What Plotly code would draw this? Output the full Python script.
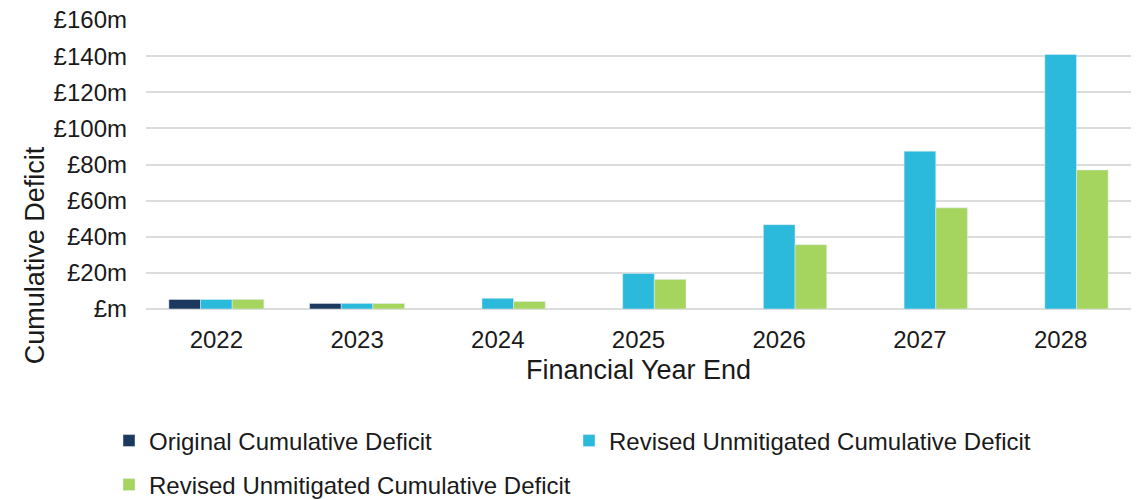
import plotly.graph_objects as go

years = ["2022", "2023", "2024", "2025", "2026", "2027", "2028"]
original_deficit = [5.3, 3.1, None, None, None, None, None]
revised_unmitigated = [5.3, 3.1, 5.9, 19.7, 46.7, 87.4, 140.9]
revised_unmitigated_green = [5.3, 3.1, 4.2, 16.4, 35.6, 56.0, 77.0]
y_ticks = [0, 20, 40, 60, 80, 100, 120, 140, 160]
y_tick_text = ["£m", "£20m", "£40m", "£60m", "£80m", "£100m", "£120m", "£140m", "£160m"]

series_name = "Revised Unmitigated Cumulative Deficit"
FONT = "Liberation Sans, Arial, sans-serif"
W, H = 1137, 500

fig = go.Figure()
fig.add_trace(go.Bar(x=years, y=original_deficit, name="Original Cumulative Deficit",
                     marker_color="#1B385E", legend="legend", showlegend=True))
fig.add_trace(go.Bar(x=years, y=revised_unmitigated, name=series_name,
                     marker_color="#2BBADB", legend="legend2", showlegend=True))
fig.add_trace(go.Bar(x=years, y=revised_unmitigated_green, name=series_name,
                     marker_color="#A5D55F", legend="legend3", showlegend=True))

legend_common = dict(orientation="h", xref="container", yref="container",
                     xanchor="left", yanchor="middle", font=dict(family=FONT, size=24, color="#1a1a1a"),
                     bgcolor="rgba(0,0,0,0)", itemclick=False, traceorder="normal")

fig.update_layout(
    width=W, height=H,
    margin=dict(l=146, r=6, t=18, b=191),
    paper_bgcolor="white", plot_bgcolor="white",
    barmode="group", bargap=0.325, bargroupgap=0,
    font=dict(family=FONT, size=24, color="#1a1a1a"),
    showlegend=True,
    # legend grid: two entries on the first row, one on the second
    legend=dict(**legend_common, x=109 / W, y=1 - 441 / H),
    legend2=dict(**legend_common, x=569 / W, y=1 - 441 / H),
    legend3=dict(**legend_common, x=109 / W, y=1 - 485 / H),
    xaxis=dict(
        showgrid=False, showline=False, ticks="",
        tickfont=dict(size=24), ticklabelstandoff=14,
        title=dict(text="Financial Year End", font=dict(size=27), standoff=8),
    ),
    yaxis=dict(
        range=[0, 160], tickvals=y_ticks, ticktext=y_tick_text,
        showgrid=True, gridcolor="#DCDCDC", gridwidth=1.5,
        zeroline=True, zerolinecolor="#DCDCDC", zerolinewidth=1.5,
        showline=False, ticks="", tickfont=dict(size=24), ticklabelstandoff=18,
    ),
    annotations=[dict(
        text="Cumulative Deficit", textangle=-90, showarrow=False,
        xref="paper", yref="paper", x=(35 - 146) / (1131 - 146), y=1 - (255 - 18) / (309 - 18),
        xanchor="center", yanchor="middle", font=dict(family=FONT, size=27, color="#1a1a1a"),
    )],
)

fig.write_html("out.html")
